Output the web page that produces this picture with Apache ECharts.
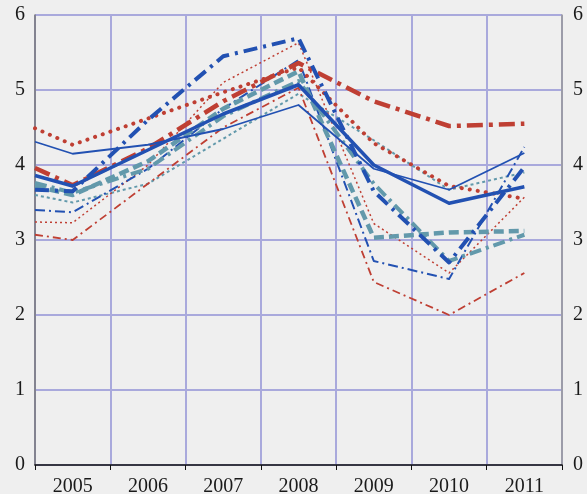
<!DOCTYPE html>
<html>
<head>
<meta charset="utf-8">
<script src="https://cdn.jsdelivr.net/npm/echarts@6/dist/echarts.min.js"></script>
<style>
  html, body { margin: 0; padding: 0; background: #efefef; }
  #main { width: 587px; height: 494px; }
</style>
</head>
<body>
<div id="main"></div>
<script>
var myChart = echarts.init(document.getElementById('main'));

// category labels and x positions (first point sits on the left edge of the plot)
var years = ['2005', '2006', '2007', '2008', '2009', '2010', '2011'];
var xPos = [2004.5, 2005, 2006, 2007, 2008, 2009, 2010, 2011];
var yTicks = [0, 6, 1];

var blueThinSolid = [4.31, 4.15, 4.27, 4.48, 4.80, 3.95, 3.67, 4.16];
var blueThickSolid = [3.86, 3.72, 4.20, 4.68, 5.07, 4.00, 3.49, 3.71];
var blueHeavyDashDot = [3.67, 3.65, 4.60, 5.45, 5.69, 3.65, 2.70, 3.97];
var blueThinDashDot = [3.40, 3.37, 3.95, 4.75, 5.40, 2.72, 2.48, 4.24];
var redRoundDot = [4.49, 4.27, 4.62, 4.97, 5.30, 4.29, 3.72, 3.55];
var redHeavyDashDot = [3.96, 3.73, 4.22, 4.85, 5.36, 4.85, 4.52, 4.55];
var redFineDot = [3.24, 3.23, 4.00, 5.10, 5.63, 3.22, 2.56, 3.57];
var redThinDashDot = [3.07, 3.00, 3.75, 4.50, 5.03, 2.44, 2.00, 2.56];
var tealHeavyDash = [3.72, 3.60, 4.05, 4.75, 5.25, 3.03, 3.10, 3.12];
var tealHeavyDashDot = [3.76, 3.63, 3.95, 4.65, 5.12, 3.75, 2.72, 3.07];
var tealFineDot = [3.60, 3.50, 3.75, 4.35, 4.95, 4.33, 3.67, 3.90];

var BLUE = '#2251b2', RED = '#bf3f33', TEAL = '#6299ab';

function pairs(vals) {
    return vals.map(function (v, i) { return [xPos[i], v]; });
}

function line(name, vals, color, width, dash, cap) {
    return {
        name: name,
        type: 'line',
        xAxisIndex: 1,
        yAxisIndex: 0,
        data: pairs(vals),
        symbol: 'none',
        clip: true,
        lineStyle: {
            color: color,
            width: width,
            type: dash,
            cap: cap || 'butt',
            join: 'round'
        }
    };
}

var labelFont = {
    fontFamily: 'Liberation Serif',
    fontSize: 20,
    color: '#1a1a1a'
};

option = {
    backgroundColor: '#efefef',
    animation: false,
    grid: { left: 35, right: 25, top: 15, bottom: 29, outerBoundsMode: 'none', containLabel: false },
    xAxis: [{
        type: 'category',
        data: years,
        boundaryGap: true,
        axisLine: { lineStyle: { color: '#111', width: 1.5 } },
        axisTick: { show: true, length: 5, lineStyle: { color: '#111' } },
        axisLabel: Object.assign({ margin: 12 }, labelFont),
        splitLine: { show: true, lineStyle: { color: '#a9a9dc', width: 2 } }
    }, {
        type: 'value',
        min: 2004.5,
        max: 2011.5,
        show: false,
        splitLine: { show: false }
    }],
    yAxis: [{
        type: 'value',
        min: yTicks[0],
        max: yTicks[1],
        interval: yTicks[2],
        position: 'left',
        axisLine: { show: true, lineStyle: { color: '#777', width: 1.5 } },
        axisTick: { show: false },
        axisLabel: Object.assign({ margin: 10 }, labelFont),
        splitLine: { show: true, lineStyle: { color: '#a9a9dc', width: 2 } }
    }, {
        type: 'value',
        min: yTicks[0],
        max: yTicks[1],
        interval: yTicks[2],
        position: 'right',
        axisLine: { show: true, lineStyle: { color: '#999', width: 1.5 } },
        axisTick: { show: false },
        axisLabel: Object.assign({ margin: 11 }, labelFont),
        splitLine: { show: false }
    }],
    series: [
        line('tealFineDot', tealFineDot, TEAL, 2, [3, 3]),
        line('redThinDashDot', redThinDashDot, RED, 1.8, [8, 4, 2, 4]),
        line('redFineDot', redFineDot, RED, 1.5, [2, 3]),
        line('blueThinDashDot', blueThinDashDot, BLUE, 2, [10, 4, 2, 4]),
        line('tealHeavyDashDot', tealHeavyDashDot, TEAL, 4, [12, 5, 3, 5]),
        line('tealHeavyDash', tealHeavyDash, TEAL, 4.5, [10, 5]),
        line('redRoundDot', redRoundDot, RED, 4, [0.1, 8], 'round'),
        line('redHeavyDashDot', redHeavyDashDot, RED, 4.5, [16, 6, 4, 6]),
        line('blueHeavyDashDot', blueHeavyDashDot, BLUE, 4, [14, 6, 3, 6]),
        line('blueThinSolid', blueThinSolid, BLUE, 1.8, 'solid'),
        line('blueThickSolid', blueThickSolid, BLUE, 3.5, 'solid')
    ]
};

myChart.setOption(option);
</script>
</body>
</html>
